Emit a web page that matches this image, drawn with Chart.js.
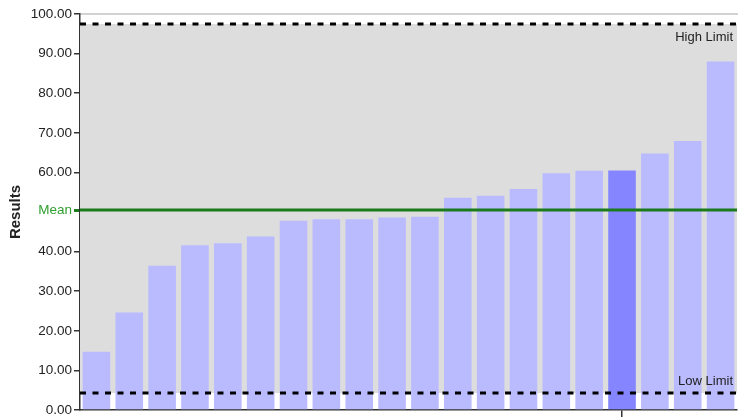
<!DOCTYPE html>
<html>
<head>
<meta charset="utf-8">
<script src="https://cdn.jsdelivr.net/npm/chart.js@4"></script>
<style>
  html, body { margin: 0; padding: 0; background: #fff; }
  #wrap { width: 738px; height: 417px; }
</style>
</head>
<body>
<div id="wrap"><canvas id="resultsChart"></canvas></div>
<script>
// values
var labs = ['1', '2', '3', '4', '5', '6', '7', '8', '9', '10',
            '11', '12', '13', '14', '15', '16', '17', '18', '19', '20'];
var results = [14.7, 24.6, 36.4, 41.6, 42.1, 43.8, 47.8, 48.2, 48.2, 48.6,
               48.8, 53.6, 54.1, 55.8, 59.8, 60.4, 60.5, 64.8, 67.9, 88.0];
var highlightIdx = 16;
var meanVal = 50.5;
var highLimit = 97.5;
var lowLimit = 4.3;
var yTickVals = [0, 10, 20, 30, 40, meanVal, 60, 70, 80, 90, 100];

var barColor = 'rgb(186, 186, 255)';
var barDark = 'rgb(133, 133, 255)';
var green = '#1b7a1b';

var limitLabels = {
    id: 'limitLabels',
    afterDatasetsDraw: function (chart) {
        var ctx = chart.ctx;
        var area = chart.chartArea;
        var y = chart.scales.y;
        ctx.save();
        ctx.font = '13px "Liberation Sans", Arial, sans-serif';
        ctx.fillStyle = '#222';
        ctx.textAlign = 'right';
        ctx.textBaseline = 'middle';
        ctx.fillText('High Limit', area.right - 4, y.getPixelForValue(highLimit) + 14);
        ctx.fillText('Low Limit', area.right - 4, y.getPixelForValue(lowLimit) - 12);
        ctx.restore();
    }
};

function flatLine(v) {
    return [{ x: 0, y: v }, { x: 1, y: v }];
}

var ctx = document.getElementById('resultsChart').getContext('2d');
var chart = new Chart(ctx, {
    data: {
        labels: labs,
        datasets: [
            {
                type: 'bar',
                label: 'Results',
                data: results,
                xAxisID: 'x',
                backgroundColor: results.map((v, i) => i === highlightIdx ? barDark : barColor),
                borderWidth: 0,
                grouped: false,
                barPercentage: 0.84,
                categoryPercentage: 1,
                order: 3
            },
            {
                type: 'line',
                label: 'High Limit',
                data: flatLine(highLimit),
                xAxisID: 'x2',
                borderColor: '#000',
                borderWidth: 3,
                borderDash: [6, 6.5],
                pointRadius: 0,
                fill: '+1',
                backgroundColor: 'rgb(221, 221, 221)',
                order: 1
            },
            {
                type: 'line',
                label: 'Low Limit',
                data: flatLine(lowLimit),
                xAxisID: 'x2',
                borderColor: '#000',
                borderWidth: 3,
                borderDash: [6, 6.5],
                pointRadius: 0,
                fill: false,
                order: 1
            },
            {
                type: 'line',
                label: 'Mean',
                data: flatLine(meanVal),
                xAxisID: 'x2',
                borderColor: green,
                borderWidth: 3,
                pointRadius: 0,
                fill: false,
                order: 0
            }
        ]
    },
    options: {
        responsive: true,
        maintainAspectRatio: false,
        animation: false,
        layout: { padding: { top: 14, right: 1, bottom: 0, left: 0 } },
        plugins: {
            legend: { display: false },
            tooltip: { enabled: false },
            filler: { drawTime: 'beforeDatasetsDraw' }
        },
        scales: {
            x: {
                type: 'category',
                position: 'bottom',
                offset: true,
                grid: {
                    drawOnChartArea: false,
                    drawTicks: true,
                    tickLength: 7,
                    offset: false,
                    color: c => c.index === highlightIdx ? '#333' : 'rgba(0,0,0,0)',
                    lineWidth: 1.5
                },
                border: { color: '#333', width: 1.5 },
                ticks: { display: false }
            },
            xTop: {
                type: 'category',
                position: 'top',
                offset: true,
                grid: { display: false, drawTicks: false },
                border: { color: '#d2d2d2', width: 2 },
                ticks: { display: false }
            },
            x2: {
                type: 'linear',
                display: false,
                min: 0,
                max: 1
            },
            y: {
                min: 0,
                max: 100,
                afterBuildTicks: function (scale) {
                    scale.ticks = yTickVals.map(v => ({ value: v }));
                },
                afterFit: function (scale) {
                    scale.width = 80;
                    scale.paddingTop = 0;
                    scale.paddingBottom = 0;
                },
                grid: {
                    drawOnChartArea: false,
                    tickLength: 6,
                    color: c => (c.tick && c.tick.value === meanVal) ? green : '#333',
                    lineWidth: c => (c.tick && c.tick.value === meanVal) ? 3 : 1.5
                },
                border: { color: '#333', width: 1.5 },
                ticks: {
                    autoSkip: false,
                    padding: 2,
                    color: c => (c.tick && c.tick.value === meanVal) ? '#2f9e2f' : '#222',
                    font: { family: '"Liberation Sans", Arial, sans-serif', size: 13.5 },
                    callback: function (value) {
                        return value === meanVal ? 'Mean' : Number(value).toFixed(2);
                    }
                },
                title: {
                    display: true,
                    text: 'Results',
                    color: '#222',
                    padding: { top: 7, bottom: 0 },
                    font: { family: '"Liberation Sans", Arial, sans-serif', size: 15, weight: 'bold' }
                }
            }
        }
    },
    plugins: [limitLabels]
});
</script>
</body>
</html>
